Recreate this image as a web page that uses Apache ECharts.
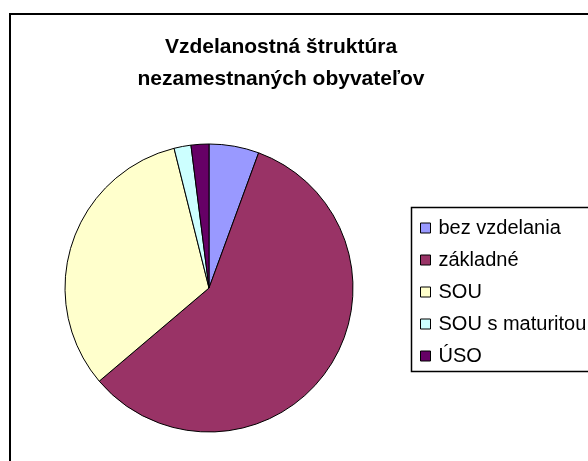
<!DOCTYPE html>
<html>
<head>
<meta charset="utf-8">
<script src="https://cdn.jsdelivr.net/npm/echarts@6/dist/echarts.min.js"></script>
<style>
  html, body { margin: 0; padding: 0; background: #fff; }
  #main { width: 588px; height: 461px; }
</style>
</head>
<body>
<div id="main"></div>
<script>
var categories = ['bez vzdelania', 'základné', 'SOU', 'SOU s maturitou', 'ÚSO'];
var values = [5.6, 58.2, 32.3, 1.9, 2.0];
var colors = ['#9999FF', '#993366', '#FFFFCC', '#CCFFFF', '#660066'];

var myChart = echarts.init(document.getElementById('main'));

var option = {
  backgroundColor: '#fff',
  animation: false,
  title: {
    text: 'Vzdelanostná štruktúra\nnezamestnaných obyvateľov',
    left: 276,
    top: 26,
    textAlign: 'center',
    textStyle: {
      fontFamily: 'Liberation Sans, Arial',
      fontSize: 21,
      fontWeight: 'bold',
      lineHeight: 32,
      color: '#000'
    }
  },
  graphic: [
    {
      type: 'rect',
      shape: { x: 10, y: 14, width: 620, height: 500 },
      style: { fill: 'none', stroke: '#000', lineWidth: 2 }
    },
    {
      type: 'rect',
      shape: { x: 411.5, y: 207.5, width: 200, height: 164 },
      style: { fill: 'none', stroke: '#000', lineWidth: 1.5 }
    }
  ],
  legend: {
    orient: 'vertical',
    left: 420,
    top: 218,
    icon: 'rect',
    itemWidth: 10,
    itemHeight: 10,
    itemGap: 12,
    padding: 0,
    data: categories,
    itemStyle: { borderColor: '#000', borderWidth: 1 },
    textStyle: {
      fontFamily: 'Liberation Sans, Arial',
      fontSize: 20,
      lineHeight: 20,
      color: '#000',
      padding: [0, 0, 0, 3]
    }
  },
  series: [
    {
      type: 'pie',
      center: [209, 288],
      radius: 144,
      startAngle: 90,
      clockwise: true,
      label: { show: false },
      labelLine: { show: false },
      emphasis: { disabled: true },
      itemStyle: { borderColor: '#000', borderWidth: 1 },
      data: categories.map(function (name, i) {
        return { name: name, value: values[i], itemStyle: { color: colors[i] } };
      })
    }
  ]
};

myChart.setOption(option);
</script>
</body>
</html>
